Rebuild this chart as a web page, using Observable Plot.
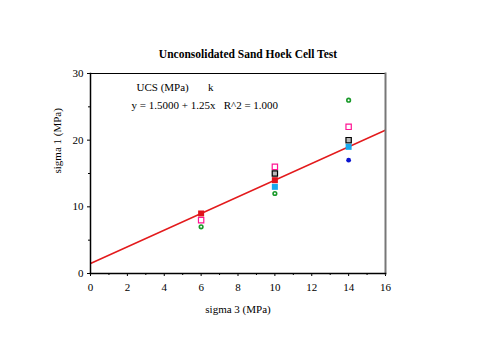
<!DOCTYPE html>
<html>
<head>
<meta charset="utf-8">
<script src="https://cdn.jsdelivr.net/npm/d3@7"></script>
<script src="https://cdn.jsdelivr.net/npm/@observablehq/plot@0.6"></script>
<style>
  html, body { margin: 0; padding: 0; background: #fff; }
</style>
</head>
<body>
<div id="chart"></div>
<script>
// ---- Data ----
const title = "Unconsolidated Sand Hoek Cell Test";
const xLabel = "sigma 3 (MPa)";
const yLabel = "sigma 1 (MPa)";
const legendHeader = "UCS (MPa)       k";
const fitText = "y = 1.5000 + 1.25x   R^2 = 1.000";

const redX = [6, 10];        const redY = [9, 14];
const pinkX = [6, 10, 14];   const pinkY = [8, 16, 22];
const greenX = [6, 10, 14];  const greenY = [7, 12, 26];
const blackX = [10, 14];     const blackY = [15, 20];
const cyanX = [10, 14];      const cyanY = [13, 19];
const blueX = [14];          const blueY = [17];

const fitIntercept = 1.5;
const fitSlope = 1.25;
const fitRange = [0, 16];

const xMajor = [0, 2, 4, 6, 8, 10, 12, 14, 16];
const xMinor = [1, 3, 5, 7, 9, 11, 13, 15];
const yMajor = [0, 10, 20, 30];
const yMinor = [5, 15, 25];

// ---- Build ----
const pts = (xs, ys) => xs.map((x, i) => ({x, y: ys[i]}));
const fitLine = fitRange.map(x => ({x, y: fitIntercept + fitSlope * x}));

const font = "'Liberation Serif', 'Times New Roman', serif";

const chart = Plot.plot({
  width: 480,
  height: 360,
  marginLeft: 90,
  marginRight: 95,
  marginTop: 73,
  marginBottom: 87,
  style: {fontFamily: font, fontSize: "10.5px", color: "#000", background: "#fff"},
  x: {domain: [0, 16]},
  y: {domain: [0, 30]},
  marks: [
    Plot.axisX({ticks: xMajor, tickSize: 3, tickPadding: 7, label: null, fontSize: 11, fill: "#000"}),
    Plot.axisX({ticks: xMinor, tickSize: 2, text: null, label: null}),
    Plot.axisY({ticks: yMajor, tickSize: 3, tickPadding: 4, label: null, fontSize: 11, fill: "#000"}),
    Plot.axisY({ticks: yMinor, tickSize: 2, text: null, label: null}),
    Plot.line(fitLine, {x: "x", y: "y", stroke: "#e31a1c", strokeWidth: 1.5, clip: true}),
    Plot.dot(pts(greenX, greenY), {x: "x", y: "y", r: 1.8, stroke: "#1a9a2a", strokeWidth: 1.6, fill: "white"}),
    Plot.dot(pts(pinkX, pinkY), {x: "x", y: "y", symbol: "square", r: 3, stroke: "#ff1493", strokeWidth: 1.2, fill: "white"}),
    Plot.dot(pts(blackX, blackY), {x: "x", y: "y", symbol: "square", r: 3, stroke: "#000", strokeWidth: 1.2, fill: "#bbb"}),
    Plot.dot(pts(cyanX, cyanY), {x: "x", y: "y", symbol: "square", r: 3.4, fill: "#17a9ee", stroke: "none"}),
    Plot.dot(pts(redX, redY), {x: "x", y: "y", symbol: "square", r: 3.4, fill: "#e0141c", stroke: "none"}),
    Plot.dot(pts(blueX, blueY), {x: "x", y: "y", r: 2.4, fill: "#0a14d0", stroke: "none"}),
    Plot.frame({stroke: "#000", strokeWidth: 1}),
    Plot.frame({anchor: "right", stroke: "#777", strokeWidth: 2}),
    Plot.frame({anchor: "left", stroke: "#000", strokeWidth: 1.5}),
    Plot.frame({anchor: "bottom", stroke: "#000", strokeWidth: 1.5}),
    Plot.text([legendHeader], {frameAnchor: "top-left", dx: 46, dy: 10, textAnchor: "start", fontSize: 11, fill: "#000"}),
    Plot.text([fitText], {frameAnchor: "top-left", dx: 41, dy: 28, textAnchor: "start", fontSize: 11, fill: "#000"}),
    Plot.text([title], {frameAnchor: "top", dy: -24, dx: 10, fontWeight: "bold", fontSize: 11.5, fill: "#000"}),
    Plot.text([xLabel], {frameAnchor: "bottom", dy: 39, fontSize: 11, fill: "#000"}),
    Plot.text([yLabel], {frameAnchor: "left", dx: -33, rotate: -90, fontSize: 11, fill: "#000"})
  ]
});
document.getElementById("chart").appendChild(chart);
</script>
</body>
</html>
